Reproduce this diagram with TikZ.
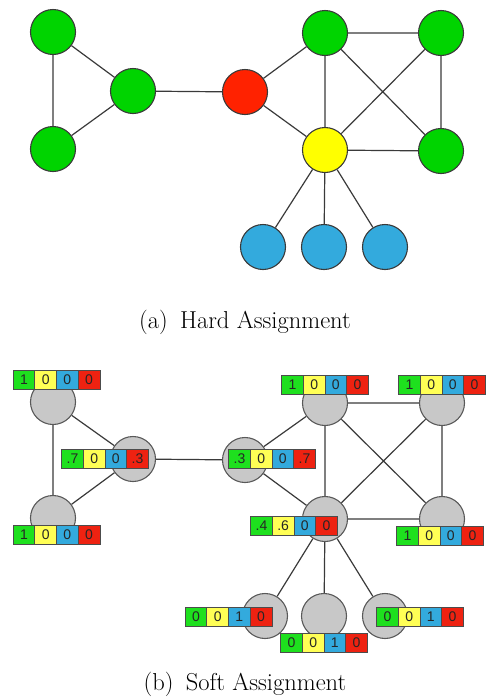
\documentclass[tikz,border=0pt]{standalone}
\usepackage{fontspec}
\newfontfamily\cellfont{Liberation Sans}
\usetikzlibrary{backgrounds}
\definecolor{ngreen}{HTML}{00D400}
\definecolor{nred}{HTML}{FF2200}
\definecolor{nyellow}{HTML}{FFFF00}
\definecolor{nblue}{HTML}{33AADD}
\definecolor{cgreen}{HTML}{1EE01E}
\definecolor{cyellow}{HTML}{FFFF55}
\definecolor{cblue}{HTML}{33AADD}
\definecolor{cred}{HTML}{EE2211}
\definecolor{ngray}{HTML}{C8C8C8}
\definecolor{edgecol}{HTML}{3A3A3A}
\tikzset{
  vert/.style={circle, draw=edgecol, line width=1.1pt, minimum size=45pt, inner sep=0pt},
  softvert/.style={vert, fill=ngray, draw=black!65},
  cell/.style={draw=black!70, line width=0.8pt, minimum width=21.7pt, minimum height=19pt,
     inner sep=0pt, font=\cellfont\fontsize{14}{14}\selectfont, text=black!85},
  link/.style={draw=edgecol, line width=1.2pt},
  caption/.style={anchor=base, font=\fontsize{24.5}{28}\selectfont}
}
\newcommand\probrow[6]{%
  \path (#2) +(-32.55,0) node[cell,fill=cgreen] (#1-1) {#3}
             +(-10.85,0) node[cell,fill=cyellow] (#1-2) {#4}
             +(10.85,0)  node[cell,fill=cblue] (#1-3) {#5}
             +(32.55,0)  node[cell,fill=cred] (#1-4) {#6};}
\begin{document}
\begin{tikzpicture}[x=1pt,y=-1pt]
\useasboundingbox (0,0) rectangle (486,697);
% ---- (a) hard assignment
\node[vert,fill=ngreen] (ha) at (53,32) {};
\node[vert,fill=ngreen] (hb) at (133,91) {};
\node[vert,fill=ngreen] (hc) at (53,149) {};
\node[vert,fill=nred] (hr) at (245,92) {};
\node[vert,fill=ngreen] (hg1) at (325,33) {};
\node[vert,fill=ngreen] (hg2) at (441,33) {};
\node[vert,fill=nyellow] (hy) at (325,150) {};
\node[vert,fill=ngreen] (hg3) at (441,151) {};
\node[vert,fill=nblue] (hb1) at (263,247) {};
\node[vert,fill=nblue] (hb2) at (324,247) {};
\node[vert,fill=nblue] (hb3) at (385,247) {};
\begin{pgfonlayer}{background}
\draw[link] (ha)--(hb) (ha)--(hc) (hb)--(hc) (hb)--(hr) (hr)--(hg1) (hr)--(hy)
  (hg1)--(hg2) (hg1)--(hy) (hg1)--(hg3) (hg2)--(hy) (hg2)--(hg3) (hy)--(hg3)
  (hy)--(hb1) (hy)--(hb2) (hy)--(hb3);
\end{pgfonlayer}
\node[caption] (capa) at (245,328) {(a)\hspace{0.5em}Hard Assignment};
% ---- (b) soft assignment
\node[softvert] (sa) at (53,402) {};
\node[softvert] (sb) at (133,459) {};
\node[softvert] (sc) at (53,518) {};
\node[softvert] (sr) at (245,460) {};
\node[softvert] (sg1) at (325,403) {};
\node[softvert] (sg2) at (442,403) {};
\node[softvert] (sy) at (325,519) {};
\node[softvert] (sg3) at (442,519) {};
\node[softvert] (sb1) at (265,616) {};
\node[softvert] (sb2) at (324,616) {};
\node[softvert] (sb3) at (385,616) {};
\begin{pgfonlayer}{background}
\draw[link] (sa)--(sb) (sa)--(sc) (sb)--(sc) (sb)--(sr) (sr)--(sg1) (sr)--(sy)
  (sg1)--(sg2) (sg1)--(sy) (sg1)--(sg3) (sg2)--(sy) (sg2)--(sg3) (sy)--(sg3)
  (sy)--(sb1) (sy)--(sb2) (sy)--(sb3);
\end{pgfonlayer}
\probrow{la}{56.5,379.5}{1}{0}{0}{0}
\probrow{lb}{105,459}{.7}{0}{0}{.3}
\probrow{lc}{56.5,535}{1}{0}{0}{0}
\probrow{lr}{272,459}{.3}{0}{0}{.7}
\probrow{lg1}{325,384.5}{1}{0}{0}{0}
\probrow{lg2}{442,384.5}{1}{0}{0}{0}
\probrow{ly}{294,526}{.4}{.6}{0}{0}
\probrow{lg3}{440,536}{1}{0}{0}{0}
\probrow{lb1}{228.5,616.5}{0}{0}{1}{0}
\probrow{lb2}{324,642.5}{0}{0}{1}{0}
\probrow{lb3}{420,616.5}{0}{0}{1}{0}
\node[caption] (capb) at (245,690) {(b)\hspace{0.5em}Soft Assignment};
\end{tikzpicture}
\end{document}
